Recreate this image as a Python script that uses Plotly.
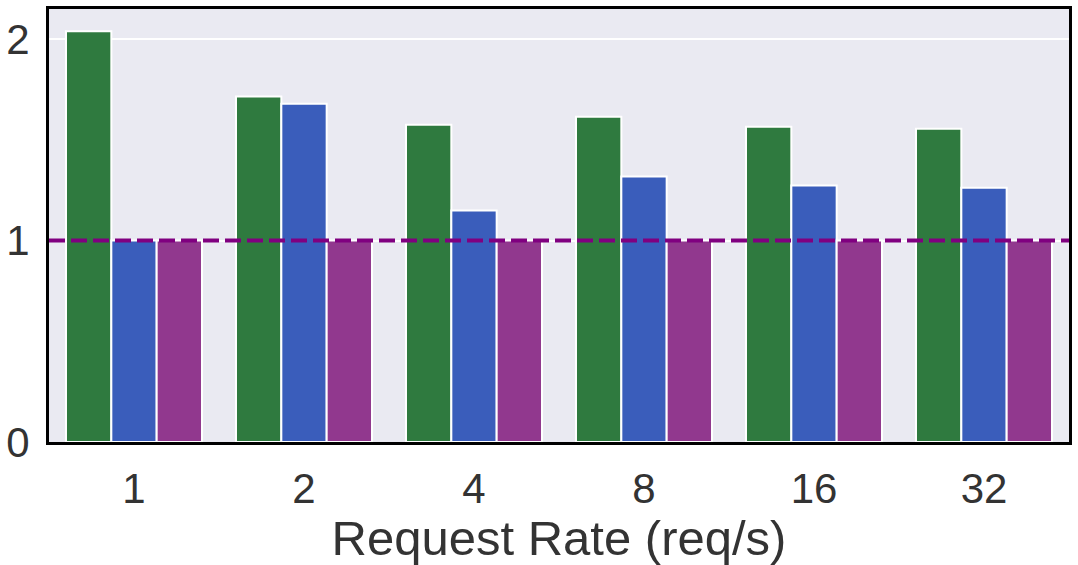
import plotly.graph_objects as go

categories = ["1", "2", "4", "8", "16", "32"]
green_vals = [2.04, 1.715, 1.575, 1.615, 1.565, 1.555]
blue_vals = [1.0, 1.68, 1.15, 1.318, 1.273, 1.263]
purple_vals = [1.0, 1.0, 1.0, 1.0, 1.0, 1.0]
y_ticks = [0, 1, 2]
baseline = 1.0

fig = go.Figure()
for vals, col in [(green_vals, "#2f7a3f"), (blue_vals, "#3a5dbb"), (purple_vals, "#91388e")]:
    fig.add_trace(go.Bar(x=categories, y=vals, marker=dict(color=col, line=dict(color="white", width=2)),
                         showlegend=False))

fig.add_shape(type="line", xref="paper", x0=0, x1=1, yref="y", y0=baseline, y1=baseline,
              line=dict(color="#800080", width=4, dash="16px,6px"), layer="above")

fig.update_layout(
    width=1078, height=565,
    margin=dict(l=48, r=6, t=8, b=123),
    paper_bgcolor="white", plot_bgcolor="#eaeaf2",
    barmode="group", bargap=0.2, bargroupgap=0,
    font=dict(family="Liberation Sans, Arial, sans-serif", color="#333333", size=42),
    xaxis=dict(type="category", range=[-0.5, 5.5], showgrid=False, showline=True, mirror=True,
               linecolor="black", linewidth=3, ticks="", tickfont=dict(size=42),
               ticklabelstandoff=8,
               title=dict(text="Request Rate (req/s)", font=dict(size=49), standoff=6)),
    yaxis=dict(range=[0, 2.15], tickvals=y_ticks, showgrid=True, gridcolor="white", gridwidth=2,
               zeroline=False, showline=True, mirror=True, linecolor="black", linewidth=3,
               ticks="", tickfont=dict(size=42), ticklabelstandoff=8),
)

fig.write_html("out.html")
